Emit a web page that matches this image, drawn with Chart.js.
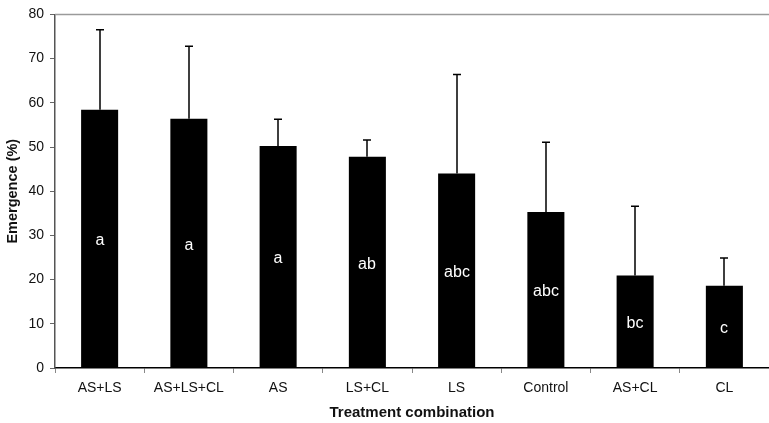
<!DOCTYPE html>
<html>
<head>
<meta charset="utf-8">
<script src="https://cdn.jsdelivr.net/npm/chart.js@4/dist/chart.umd.min.js"></script>
<style>
  html, body { margin: 0; padding: 0; background: #fff; }
  #wrap { width: 769px; height: 423px; }
</style>
</head>
<body>
<div id="wrap"><canvas id="myChart"></canvas></div>
<script>
const treatments = ['AS+LS', 'AS+LS+CL', 'AS', 'LS+CL', 'LS', 'Control', 'AS+CL', 'CL'];
const emergence = [58.4, 56.4, 50.2, 47.8, 44.0, 35.3, 20.9, 18.6];
const errorUpper = [76.5, 72.8, 56.3, 51.6, 66.4, 51.1, 36.6, 24.9];
const letters = ['a', 'a', 'a', 'ab', 'abc', 'abc', 'bc', 'c'];

const fontFamily = '"Liberation Sans", Arial, sans-serif';

// error bars + letters drawn through the scales
const extrasPlugin = {
    id: 'extras',
    afterDatasetsDraw(chart) {
        const ctx = chart.ctx;
        const x = chart.scales.x;
        const y = chart.scales.y;
        const area = chart.chartArea;

        // grey top frame line
        ctx.save();
        ctx.strokeStyle = '#9a9a9a';
        ctx.lineWidth = 1.5;
        ctx.beginPath();
        ctx.moveTo(area.left, area.top);
        ctx.lineTo(area.right, area.top);
        ctx.stroke();

        ctx.strokeStyle = '#000';
        ctx.lineWidth = 1.5;
        for (let i = 0; i < treatments.length; i++) {
            const cx = Math.round(x.getPixelForValue(i));
            const yTop = y.getPixelForValue(emergence[i]);
            const yErr = y.getPixelForValue(errorUpper[i]);
            ctx.beginPath();
            ctx.moveTo(cx, yTop);
            ctx.lineTo(cx, yErr);
            ctx.moveTo(cx - 4, yErr);
            ctx.lineTo(cx + 4, yErr);
            ctx.stroke();

            const yMid = (yTop + y.getPixelForValue(0)) / 2;
            ctx.fillStyle = '#fff';
            ctx.font = '16px ' + fontFamily;
            ctx.textAlign = 'center';
            ctx.textBaseline = 'middle';
            ctx.fillText(letters[i], cx, yMid + 2);
        }
        ctx.restore();
    }
};

new Chart(document.getElementById('myChart').getContext('2d'), {
    type: 'bar',
    data: {
        labels: treatments,
        datasets: [{
            data: emergence,
            backgroundColor: '#000',
            borderWidth: 0,
            categoryPercentage: 1,
            barPercentage: 0.415
        }]
    },
    options: {
        responsive: true,
        maintainAspectRatio: false,
        animation: false,
        layout: { padding: { top: 14, right: 0, left: 0, bottom: 0 } },
        plugins: {
            legend: { display: false },
            tooltip: { enabled: false }
        },
        scales: {
            x: {
                offset: true,
                grid: {
                    offset: true,
                    drawOnChartArea: false,
                    drawTicks: true,
                    tickLength: 5,
                    color: '#888'
                },
                border: { color: '#000', width: 1.5 },
                ticks: {
                    color: '#111',
                    font: { family: fontFamily, size: 14 },
                    padding: 7,
                    maxRotation: 0,
                    autoSkip: false
                },
                title: {
                    display: true,
                    text: 'Treatment combination',
                    color: '#111',
                    font: { family: fontFamily, size: 15, weight: 'bold' },
                    padding: { top: 4, bottom: 1 }
                },
                afterFit(scale) { scale.height = 55; }
            },
            y: {
                min: 0,
                max: 80,
                ticks: {
                    stepSize: 10,
                    color: '#111',
                    font: { family: fontFamily, size: 14 },
                    padding: 6
                },
                grid: {
                    drawOnChartArea: false,
                    drawTicks: true,
                    tickLength: 5,
                    color: '#666'
                },
                border: { color: '#555', width: 1.5 },
                title: {
                    display: true,
                    text: 'Emergence (%)',
                    color: '#111',
                    font: { family: fontFamily, size: 14.5, weight: 'bold' },
                    padding: { top: 4, bottom: 0 }
                },
                afterFit(scale) { scale.width = 55; }
            }
        }
    },
    plugins: [extrasPlugin]
});
</script>
</body>
</html>
